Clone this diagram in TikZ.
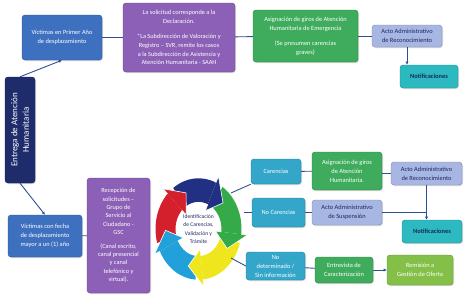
\documentclass[tikz,border=0pt]{standalone}
\usepackage{fontspec}
\setmainfont{Carlito}
\usetikzlibrary{arrows.meta,shadows}

\definecolor{azulv}{RGB}{62,112,192}
\definecolor{moradoS}{RGB}{140,96,182}
\definecolor{verdeA}{RGB}{62,172,92}
\definecolor{verdeC}{RGB}{132,192,72}
\definecolor{lilaA}{RGB}{168,182,228}
\definecolor{turq}{RGB}{44,186,192}
\definecolor{turqB}{RGB}{52,166,202}
\definecolor{marino}{RGB}{30,44,108}
\definecolor{linea}{RGB}{46,80,146}
\definecolor{textoO}{RGB}{26,40,96}
\definecolor{cicloAz}{RGB}{34,48,132}
\definecolor{cicloVe}{RGB}{52,170,72}
\definecolor{cicloAm}{RGB}{240,230,30}
\definecolor{cicloCe}{RGB}{34,160,218}
\definecolor{cicloRo}{RGB}{212,32,44}

\begin{document}
\begin{tikzpicture}[>={Latex[length=3.2pt,width=3.2pt]},x=1pt,y=-1pt,
  caja/.style={rounded corners=3pt,draw=#1!75!black,fill=#1,text=white,align=center,
    inner sep=1pt,font=\fontsize{6.4}{9}\selectfont,
    drop shadow={opacity=.3,shadow xshift=1pt,shadow yshift=-1pt}},
  oscura/.style={text=textoO},
  con/.style={draw=linea,line width=.9pt}]
  \useasboundingbox (0,0) rectangle (470,297);

  \node[caja=azulv,minimum width=80pt,minimum height=45pt] (v1) at (62,37.5)
    {Víctimas en Primer Año\\de desplazamiento};
  \node[caja=moradoS,minimum width=112pt,minimum height=69pt,font=\fontsize{6.3}{8.9}\selectfont] (s1) at (179,37.5)
    {La solicitud corresponde a la\\Declaración.\\[6pt]*La Subdirección de Valoración y\\Registro – SVR, remite los casos\\a la Subdirección de Asistencia y\\Atención Humanitaria - SAAH};
  \node[caja=verdeA,minimum width=105pt,minimum height=52pt] (g1) at (305.5,36)
    {Asignación de giros de Atención\\Humanitaria de Emergencia\\[6pt](Se presumen carencias\\graves)};
  \node[caja=lilaA,oscura,minimum width=70pt,minimum height=22pt] (a1) at (407,36)
    {Acto Administrativo\\de Reconocimiento};
  \node[caja=turq,oscura,minimum width=58pt,minimum height=23pt] (n1) at (429,76.5)
    {\textbf{Notificaciones}};
  \node[caja=marino,minimum width=106pt,minimum height=30pt,rotate=90,font=\fontsize{9}{11.5}\selectfont] (e) at (20,130)
    {Entrega de Atención\\Humanitaria};
  \node[caja=azulv,minimum width=74pt,minimum height=42pt] (v2) at (45,236)
    {Víctimas con fecha\\de desplazamiento\\mayor a un (1) año};
  \node[caja=moradoS,minimum width=63pt,minimum height=115pt,font=\fontsize{6.3}{8.4}\selectfont] (s2) at (118.5,235.5)
    {Recepción de\\solicitudes –\\Grupo de\\Servicio al\\Ciudadano -\\GSC\\[5pt](Canal escrito,\\canal presencial\\y canal\\telefónico y\\virtual).};

  \begin{scope}[shift={(198.5,229)},yscale=-1.18]
    \foreach \ini/\tip/\col in {126/42/cicloAz,56/-30/cicloVe,-16/-108/cicloAm,-94/-178/cicloCe,-164/-248/cicloRo}
      \fill[\col] (\ini:43) arc[start angle=\ini,end angle=\tip+24,radius=43]
        -- ({\tip+24}:23) arc[start angle=\tip+24,end angle=\ini,radius=23] -- cycle;
    \foreach \tip/\col in {42/cicloAz,-30/cicloVe,-108/cicloAm,-178/cicloCe,-248/cicloRo}
      \filldraw[fill=\col,draw=white,line width=.6pt] ({\tip+24}:43) -- ({\tip+24}:49)
        -- (\tip:33) -- ({\tip+24}:17) -- ({\tip+24}:23);
  \end{scope}
  \node[text=textoO,align=center,font=\fontsize{5.6}{8.2}\selectfont] (cy) at (198.5,229)
    {Identificación\\de Carencias,\\Validación y\\Trámite};
  \coordinate (cy1) at (231,193);
  \coordinate (cy2) at (244,212.5);
  \coordinate (cy3) at (231,258);

  \node[caja=turqB,minimum width=50pt,minimum height=25pt] (c1) at (276,171.5) {Carencias};
  \node[caja=verdeA,minimum width=70pt,minimum height=38pt] (g2) at (347,171)
    {Asignación de giros\\de Atención\\Humanitaria.};
  \node[caja=lilaA,oscura,minimum width=71pt,minimum height=23pt] (a2) at (426.5,173.5)
    {Acto Administrativo\\de Reconocimiento};
  \node[caja=turqB,minimum width=53pt,minimum height=29pt] (c2) at (278.5,212.5) {No Carencias};
  \node[caja=lilaA,oscura,minimum width=70pt,minimum height=25pt] (a3) at (347,212.5)
    {Acto Administrativo\\de Suspensión};
  \node[caja=turq,oscura,minimum width=60pt,minimum height=23pt] (n2) at (432,231.5)
    {\textbf{Notificaciones}};
  \node[caja=turqB,minimum width=59pt,minimum height=28pt] (c3) at (275.5,266)
    {No\\determinado /\\Sin información};
  \node[caja=verdeA,minimum width=58pt,minimum height=26pt] (g3) at (344,270)
    {Entrevista de\\Caracterización};
  \node[caja=verdeC,minimum width=66pt,minimum height=30pt] (g4) at (420,270)
    {Remisión a\\Gestión de Oferta};

  \draw[con,->] (e.east) -- (v1.south);
  \draw[con,->] (e.west) -- (v2.north);
  \draw[con] (v1) -- (s1);
  \draw[con] (s1) -- (g1);
  \draw[con] (g1) -- (a1);
  \draw[con,->] (a1.south) -- (a1.south |- n1.north);
  \draw[con] (v2) -- (s2);
  \draw[con] (cy1) -- (c1.south west);
  \draw[con] (cy2) -- (c2.west);
  \draw[con] (cy3) -- (c3.west);
  \draw[con] (c1) -- (g2);
  \draw[con] (g2.east |- a2.west) -- (a2.west);
  \draw[con] (c2) -- (a3);
  \draw[con] (a3.east) -- (a3.east -| a2.south);
  \draw[con,->] (a2.south) -- (a2.south |- n2.north);
  \draw[con] (c3) -- (g3);
  \draw[con,->] (g3) -- (g4);
\end{tikzpicture}
\end{document}
